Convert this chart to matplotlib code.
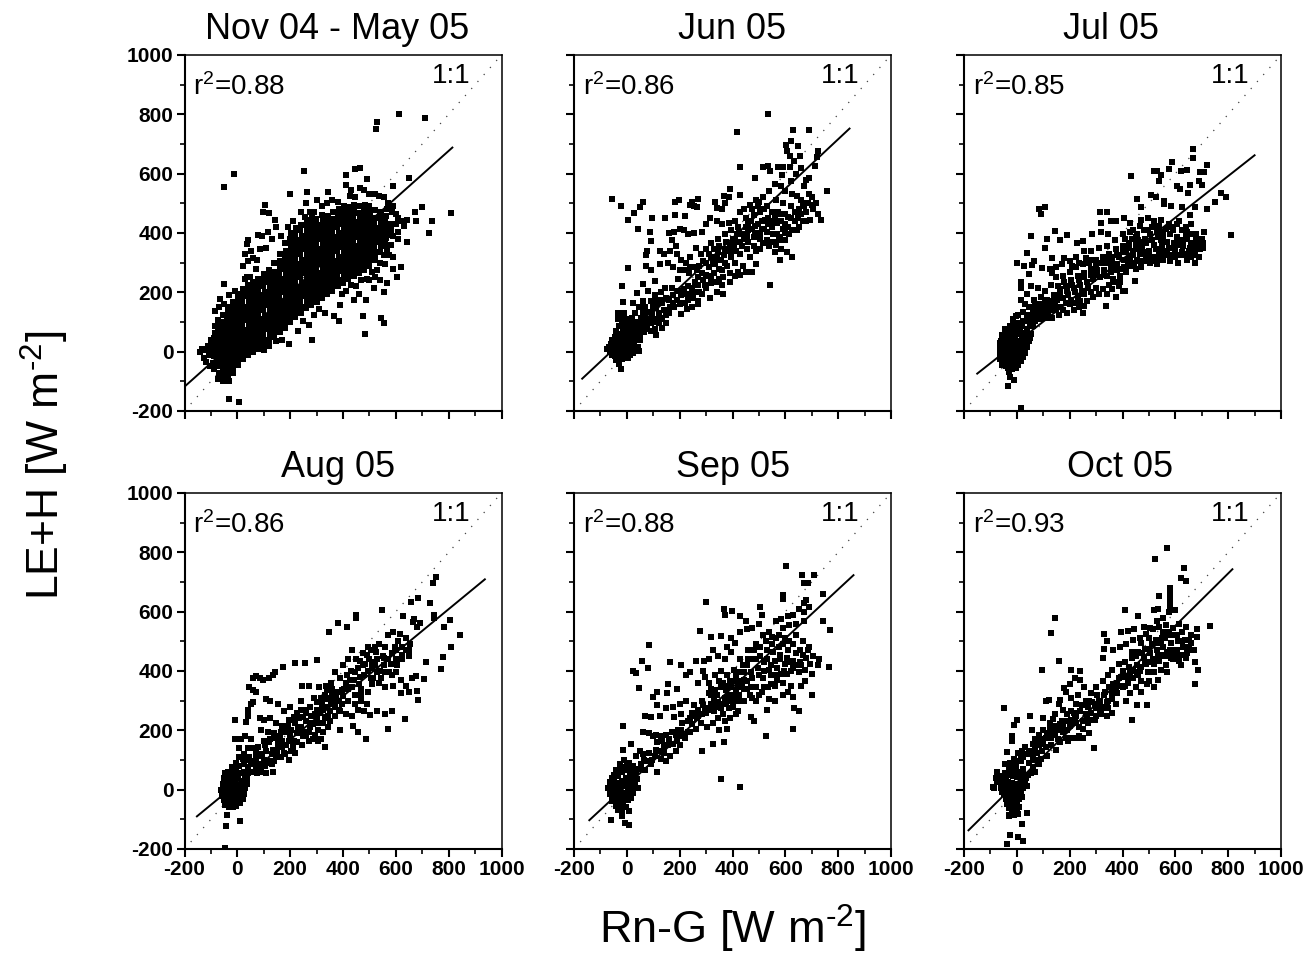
import matplotlib
matplotlib.use('Agg')
import matplotlib.pyplot as plt
import numpy as np

plt.rcParams['font.family'] = ['Liberation Sans', 'DejaVu Sans']
plt.rcParams['mathtext.default'] = 'regular'
plt.rcParams['axes.unicode_minus'] = False

titles = ['Nov 04 - May 05', 'Jun 05', 'Jul 05', 'Aug 05', 'Sep 05', 'Oct 05']
r2_labels = ['0.88', '0.86', '0.85', '0.86', '0.88', '0.93']

# fit line end points
fit_x = [(-200, 814), (-169, 843), (-150, 900), (-153, 937), (-142, 858), (-183, 816)]
fit_y = [(-118, 688), (-91, 752), (-74, 662), (-90, 709), (-103, 723), (-137, 743)]

# ======================
# Nov 04 - May 05 (dense cloud, rough reading)
# ======================
nov_core = [
    (-142, -2), (-135, 8), (-128, -20), (-122, 5), (-118, -35), (-112, 20), (-108, -12), (-105, -50), (-100, 40), (-98, 8),
    (-90, -60), (-92, -38), (-88, -16), (-90, 5), (-88, 25), (-90, 45), (-86, 62), (-84, 85),
    (-72, -92), (-70, -72), (-74, -50), (-70, -30), (-72, -10), (-70, 10), (-74, 30), (-70, 50), (-72, 70), (-70, 90), (-72, 108),
    (-55, -100), (-52, -80), (-56, -60), (-53, -40), (-55, -20), (-52, 0), (-56, 20), (-53, 40), (-55, 60), (-52, 80), (-56, 100), (-54, 122),
    (-36, -88), (-34, -68), (-38, -48), (-35, -28), (-37, -8), (-34, 12), (-38, 32), (-35, 52), (-37, 72), (-34, 92), (-38, 112), (-36, 132), (-34, 150),
    (-18, -72), (-16, -52), (-20, -32), (-17, -12), (-19, 8), (-16, 28), (-20, 48), (-17, 68), (-19, 88), (-16, 108), (-20, 128), (-18, 148), (-16, 168),
    (2, -46), (0, -26), (3, -6), (1, 14), (4, 34), (0, 54), (3, 74), (1, 94), (4, 114), (0, 134), (3, 154), (1, 174), (3, 194),
    (20, -26), (22, -8), (19, 12), (22, 32), (20, 52), (23, 72), (19, 92), (22, 112), (20, 132), (23, 152), (19, 172), (22, 192), (20, 212),
    (40, -12), (42, 8), (39, 28), (42, 48), (40, 68), (43, 88), (39, 108), (42, 128), (40, 148), (43, 168), (39, 188), (42, 208), (40, 224),
    (60, 0), (62, 20), (59, 40), (62, 60), (60, 80), (63, 100), (59, 120), (62, 140), (60, 160), (63, 180), (59, 200), (62, 220), (60, 234),
    (80, 10), (82, 30), (79, 50), (82, 70), (80, 90), (83, 110), (79, 130), (82, 150), (80, 170), (83, 190), (79, 210), (82, 230), (80, 246),
    (100, 20), (102, 40), (99, 60), (102, 80), (100, 100), (103, 120), (99, 140), (102, 160), (100, 180), (103, 200), (99, 220), (102, 240), (100, 262),
    (120, 36), (122, 56), (119, 76), (122, 96), (120, 116), (123, 136), (119, 156), (122, 176), (120, 196), (123, 216), (119, 236), (122, 256), (120, 276),
    (140, 50), (142, 70), (139, 90), (142, 110), (140, 130), (143, 150), (139, 170), (142, 190), (140, 210), (143, 230), (139, 250), (142, 270), (140, 298),
    (160, 66), (162, 86), (159, 106), (162, 126), (160, 146), (163, 166), (159, 186), (162, 206), (160, 226), (163, 246), (159, 266), (162, 286), (160, 306), (163, 328),
    (180, 80), (182, 100), (179, 120), (182, 140), (180, 160), (183, 180), (179, 200), (182, 220), (180, 240), (183, 260), (179, 280), (182, 300), (180, 320), (183, 340), (179, 366),
    (200, 100), (202, 120), (199, 140), (202, 160), (200, 180), (203, 200), (199, 220), (202, 240), (200, 260), (203, 280), (199, 300), (202, 320), (200, 340), (203, 360), (199, 380), (202, 400),
    (220, 116), (222, 136), (219, 156), (222, 176), (220, 196), (223, 216), (219, 236), (222, 256), (220, 276), (223, 296), (219, 316), (222, 336), (220, 356), (223, 376), (219, 396), (222, 416),
    (240, 130), (242, 150), (239, 170), (242, 190), (240, 210), (243, 230), (239, 250), (242, 270), (240, 290), (243, 310), (239, 330), (242, 350), (240, 370), (243, 390), (239, 410), (242, 428),
    (260, 146), (262, 166), (259, 186), (262, 206), (260, 226), (263, 246), (259, 266), (262, 286), (260, 306), (263, 326), (259, 346), (262, 366), (260, 386), (263, 406), (259, 426), (262, 444),
    (280, 156), (282, 176), (279, 196), (282, 216), (280, 236), (283, 256), (279, 276), (282, 296), (280, 316), (283, 336), (279, 356), (282, 376), (280, 396), (283, 416), (279, 436), (282, 450),
    (300, 166), (302, 186), (299, 206), (302, 226), (300, 246), (303, 266), (299, 286), (302, 306), (300, 326), (303, 346), (299, 366), (302, 386), (300, 406), (303, 426), (299, 446),
    (320, 180), (322, 200), (319, 220), (322, 240), (320, 260), (323, 280), (319, 300), (322, 320), (320, 340), (323, 360), (319, 380), (322, 400), (320, 420), (323, 440), (319, 462),
    (340, 196), (342, 216), (339, 236), (342, 256), (340, 276), (343, 296), (339, 316), (342, 336), (340, 356), (343, 376), (339, 396), (342, 416), (340, 436), (343, 456),
    (360, 206), (362, 226), (359, 246), (362, 266), (360, 286), (363, 306), (359, 326), (362, 346), (360, 366), (363, 386), (359, 406), (362, 426), (360, 446), (363, 472),
    (380, 220), (382, 240), (379, 260), (382, 280), (380, 300), (383, 320), (379, 340), (382, 360), (380, 380), (383, 400), (379, 420), (382, 440), (380, 460), (383, 480),
    (400, 232), (402, 252), (399, 272), (402, 292), (400, 312), (403, 332), (399, 352), (402, 372), (400, 392), (403, 412), (399, 432), (402, 452), (400, 472), (403, 490),
    (420, 246), (422, 266), (419, 286), (422, 306), (420, 326), (423, 346), (419, 366), (422, 386), (420, 406), (423, 426), (419, 446), (422, 466), (420, 488),
    (440, 256), (442, 276), (439, 296), (442, 316), (440, 336), (443, 356), (439, 376), (442, 396), (440, 416), (443, 436), (439, 456), (442, 476), (440, 495),
    (460, 266), (462, 286), (459, 306), (462, 326), (460, 346), (463, 366), (459, 386), (462, 406), (460, 426), (463, 446), (459, 466), (462, 492),
    (480, 276), (482, 296), (479, 316), (482, 336), (480, 356), (483, 376), (479, 396), (482, 416), (480, 436), (483, 456), (479, 476), (482, 495),
    (500, 290), (502, 310), (499, 330), (502, 350), (500, 370), (503, 390), (499, 410), (502, 430), (500, 450), (503, 470), (499, 490),
    (520, 310), (522, 330), (519, 350), (522, 370), (520, 390), (523, 410), (519, 430), (522, 450), (520, 478),
    (540, 336), (542, 356), (539, 376), (542, 396), (540, 416), (543, 436), (539, 456), (542, 470),
    (560, 362), (562, 382), (559, 402), (562, 422), (560, 442), (563, 456),
    (580, 392), (582, 412), (579, 430),
]
nov_scatter = [
    (611, 802), (710, 786), (527, 773), (524, 752), (254, 608), (-11, 600), (-49, 555), (413, 597), (447, 615), (466, 619),
    (491, 581), (649, 584), (590, 557), (200, 532), (263, 538), (344, 539), (411, 562), (105, 495), (261, 500), (99, 470),
    (119, 469), (144, 444), (810, 467), (738, 439), (725, 399), (678, 442), (644, 443), (699, 486), (673, 472), (641, 371),
    (609, 405), (618, 287), (590, 318), (567, 231), (554, 202), (519, 214), (485, 61), (557, 98), (544, 112), (475, 121),
    (384, 105), (365, 120), (284, 38), (197, 26), (228, 71), (390, 157), (486, 174), (-84, 138), (-49, 227), (-66, 178),
    (-32, -100), (-33, -160), (8, -169), (23, 290), (42, 377), (42, 304), (80, 394), (35, 362), (30, 330), (60, 316),
    (75, 310), (50, 340), (95, 390), (115, 405), (130, 380), (145, 420), (165, 390), (110, 350), (85, 345), (70, 280),
    (48, 250), (38, 252), (28, 246), (-30, 190), (-10, 205), (-50, 160), (-70, 150), (430, 545), (425, 525), (445, 520),
    (465, 550), (480, 545), (500, 530), (520, 530), (535, 525), (555, 520), (570, 500), (590, 490), (600, 465), (610, 450),
    (620, 440), (630, 425), (585, 470), (565, 480), (600, 430), (590, 390), (610, 380), (580, 360), (565, 345), (555, 325),
    (540, 300), (530, 275), (510, 270), (490, 245), (470, 240), (450, 220), (520, 250), (560, 295), (575, 325), (500, 240),
    (430, 225), (410, 205), (395, 195), (460, 195), (440, 175), (605, 250), (590, 280), (540, 240), (330, 130), (310, 145),
    (290, 125), (250, 105), (270, 90), (170, 40), (145, 35), (120, 20), (100, 5), (300, 510), (320, 490), (340, 500),
    (360, 510), (380, 505), (290, 470), (275, 470), (255, 455), (240, 470), (210, 440), (190, 420),
]
nov_pts = nov_core + nov_scatter

# ======================
# Jun 05
# ======================
jun_pts = [
    (534, 800), (418, 739), (630, 748), (688, 748), (622, 711), (603, 696), (649, 692), (606, 677), (722, 677), (618, 660),
    (656, 660), (631, 643), (719, 655), (713, 627), (618, 621), (429, 621), (517, 621), (536, 627), (543, 610), (574, 621),
    (593, 621), (688, 587), (587, 595), (486, 587), (757, 540), (-57, 516), (-21, 492), (63, 506), (50, 486), (28, 467),
    (4, 443), (97, 452), (42, 413), (88, 404), (91, 373), (78, 340), (73, 326), (126, 340), (139, 328), (4, 282),
    (73, 289), (91, 276), (126, 295), (-19, 222), (63, 227), (107, 238), (38, 199), (-13, 168), (-34, 129), (543, 225),
    (271, 162), (227, 145), (204, 126), (-21, -57), (145, 450), (183, 460), (221, 458), (183, 503), (196, 511), (246, 503),
    (271, 516), (265, 486), (334, 505), (391, 548), (429, 529), (366, 525), (240, 495), (255, 490), (340, 485), (360, 480),
    (370, 500), (385, 520), (160, 400), (180, 405), (200, 415), (215, 410), (230, 395), (255, 400), (285, 405), (300, 430),
    (315, 450), (340, 440), (360, 430), (385, 435), (410, 440), (430, 470), (445, 480), (465, 495), (490, 510), (515, 520),
    (540, 540), (560, 565), (585, 560), (600, 540), (625, 530), (645, 525), (670, 560), (660, 510), (690, 530), (700, 495),
    (680, 470), (650, 480), (620, 490), (590, 500), (565, 510), (530, 490), (505, 470), (480, 460), (450, 450), (420, 420),
    (395, 410), (370, 395), (345, 380), (320, 365), (300, 345), (280, 330), (260, 350), (240, 320), (225, 300), (205, 310),
    (185, 355), (170, 375), (165, 340), (190, 330), (155, 300), (175, 285), (200, 275), (235, 265), (255, 285), (275, 290),
    (300, 300), (320, 320), (345, 335), (370, 345), (390, 360), (410, 375), (435, 395), (460, 410), (485, 425), (510, 440),
    (535, 450), (560, 460), (585, 465), (610, 455), (635, 440), (665, 440), (695, 445), (725, 465), (735, 445), (650, 420),
    (625, 410), (600, 400), (580, 385), (555, 395), (530, 405), (505, 400), (480, 385), (460, 370), (435, 355), (415, 340),
    (395, 320), (370, 300), (350, 280), (330, 265), (310, 255), (290, 240), (270, 225), (340, 235), (365, 250), (390, 265),
    (420, 270), (440, 290), (465, 320), (490, 340), (515, 365), (540, 355), (565, 360), (585, 345), (605, 335), (625, 320),
    (580, 310), (560, 335), (410, 255), (390, 235), (360, 225), (365, 195), (350, 245), (260, 200), (250, 180), (230, 175),
    (215, 195), (195, 205), (175, 190), (160, 175), (145, 215), (130, 200), (125, 175), (105, 190), (90, 170), (80, 205),
    (70, 150), (60, 170), (45, 150), (30, 130), (25, 165), (140, 140), (120, 130), (150, 95), (135, 80), (125, 115),
    (100, 100), (85, 110), (70, 120), (55, 100), (45, 80), (65, 65), (40, 60), (90, 70), (110, 55), (105, 75),
    (20, 115), (15, 85), (5, 65), (-5, 95), (-15, 75), (-30, 85), (-40, 70), (-45, 50), (-55, 40), (-60, 25),
    (-48, 20), (-38, 35), (-30, 55), (-22, 40), (-12, 55), (0, 45), (12, 55), (25, 50), (35, 40), (50, 40),
    (-75, 8), (-62, 5), (-50, 2), (-38, 10), (-28, 18), (-18, 12), (-8, 20), (4, 22), (15, 30), (28, 20),
    (42, 15), (-58, -12), (-45, -15), (-32, -5), (-22, -10), (-10, 0), (2, 5), (14, 8), (-30, -30), (-18, -25),
    (5, -20), (25, -5), (-28, -42), (-40, -28), (620, 575), (640, 600), (660, 620), (680, 580), (705, 480), (665, 500),
    (570, 435), (550, 470), (520, 415), (495, 490), (470, 440), (455, 390), (505, 380), (350, 310), (380, 290), (335, 295),
    (320, 230), (300, 215), (285, 195), (315, 180), (340, 200), (270, 170), (245, 150), (210, 165), (180, 150), (160, 130),
    (110, 150), (95, 130), (75, 90), (60, 135), (38, 100), (10, 110), (-10, 130), (680, 440), (640, 470), (600, 465),
]
jun_extra = [
    (-68, 15), (-55, 25), (-42, 15), (-30, 30), (-18, 28), (-5, 35), (8, 38), (20, 40), (32, 55), (48, 55),
    (-65, -2), (-52, -5), (-40, -8), (-15, -8), (0, -10), (12, -12), (30, 5), (45, 2), (-35, 48), (-20, 60),
    (-8, 65), (8, 70), (22, 72), (35, 75), (50, 70), (62, 85), (78, 75), (92, 95), (108, 110), (122, 95),
    (135, 110), (148, 125), (162, 150), (175, 165), (190, 175), (205, 190), (218, 210), (232, 220), (245, 215), (258, 235),
    (270, 250), (285, 265), (300, 260), (312, 285), (325, 300), (340, 320), (355, 310), (368, 325), (380, 345), (392, 340),
    (405, 355), (418, 395), (430, 370), (445, 380), (458, 430), (472, 415), (485, 400), (498, 430), (510, 415), (522, 445),
    (535, 430), (548, 420), (560, 440), (572, 470), (585, 440), (598, 430), (610, 420), (622, 450), (635, 470), (648, 450),
    (660, 465), (672, 490), (685, 500), (700, 520), (715, 500), (645, 410), (615, 395), (590, 415), (570, 395), (545, 440),
    (520, 480), (500, 505), (475, 480), (450, 420), (425, 405), (400, 380), (375, 370), (350, 355), (330, 345), (310, 330),
    (290, 305), (265, 275), (240, 285), (215, 275), (195, 245), (172, 215), (150, 180), (135, 165), (115, 170), (98, 150),
    (82, 135), (68, 100), (52, 115), (30, 90), (15, 95), (0, 85), (-20, 95), (-35, 110), (-15, 115), (5, 100),
    (200, 160), (220, 165), (240, 195), (275, 200), (295, 225), (320, 250), (360, 275), (410, 300), (430, 330), (455, 345),
    (480, 355), (505, 345), (530, 375), (555, 370), (575, 375), (600, 375), (475, 270), (450, 270), (430, 260), (490, 295),
]

# ======================
# Jul 05
# ======================
jul_pts = [
    (668, 683), (668, 653), (588, 640), (720, 629), (521, 610), (531, 610), (575, 615), (620, 610), (645, 612), (434, 593),
    (546, 595), (537, 576), (695, 604), (708, 604), (689, 576), (701, 562), (657, 562), (607, 559), (617, 548), (647, 534),
    (771, 534), (790, 523), (751, 503), (720, 480), (676, 488), (455, 514), (506, 528), (525, 520), (556, 508), (556, 497),
    (582, 492), (626, 486), (471, 488), (657, 460), (83, 480), (105, 486), (92, 463), (52, 390), (146, 406), (115, 379),
    (165, 376), (190, 394), (105, 351), (37, 334), (1, 300), (64, 306), (58, 291), (29, 289), (45, 263), (134, 317),
    (178, 317), (96, 281), (127, 278), (14, 236), (16, 213), (809, 394), (708, 402), (704, 349), (676, 300), (226, 366),
    (251, 373), (285, 396), (319, 435), (313, 470), (340, 471), (355, 441), (336, 154), (449, 238), (411, 205), (-34, -116),
    (-9, -97), (14, -189), (320, 405), (345, 395), (375, 440), (405, 450), (430, 435), (470, 445), (495, 450), (520, 440),
    (545, 445), (575, 430), (590, 410), (615, 440), (640, 420), (660, 395), (680, 395), (700, 380), (685, 360), (660, 365),
    (630, 375), (605, 385), (580, 395), (555, 390), (530, 405), (505, 395), (480, 410), (455, 395), (430, 405), (400, 395),
    (370, 375), (340, 355), (310, 350), (280, 340), (255, 340), (225, 320), (200, 305), (170, 295), (150, 285), (135, 265),
    (150, 250), (175, 255), (200, 270), (225, 285), (250, 295), (275, 300), (300, 310), (325, 320), (350, 330), (375, 345),
    (400, 355), (425, 365), (450, 360), (475, 350), (500, 340), (525, 345), (550, 355), (575, 350), (600, 345), (625, 335),
    (650, 340), (675, 340), (695, 345), (705, 365), (645, 310), (610, 300), (580, 305), (555, 310), (530, 295), (505, 300),
    (480, 305), (455, 310), (430, 320), (405, 310), (380, 295), (355, 290), (330, 275), (305, 275), (280, 280), (255, 265),
    (230, 255), (205, 240), (180, 235), (155, 220), (130, 225), (105, 205), (80, 215), (55, 220), (40, 195), (65, 175),
    (90, 185), (115, 175), (140, 190), (165, 195), (190, 205), (215, 215), (240, 225), (265, 235), (290, 245), (315, 250),
    (340, 255), (365, 245), (390, 255), (415, 270), (385, 220), (360, 210), (340, 195), (400, 205), (375, 185), (300, 215),
    (280, 200), (255, 195), (230, 185), (205, 175), (185, 165), (165, 150), (145, 160), (120, 150), (100, 145), (80, 140),
    (60, 140), (45, 150), (30, 160), (15, 175), (-5, 120), (5, 125), (25, 135), (25, 105), (50, 110), (70, 105),
    (90, 110), (110, 115), (135, 115), (160, 125), (190, 130), (215, 140), (235, 150), (250, 130), (255, 155), (20, 85),
    (40, 75), (60, 85), (5, 95), (-15, 110), (-25, 85), (-45, 75), (-55, 55), (-40, 50), (-25, 60), (-10, 70),
    (5, 60), (20, 55), (35, 50), (-60, 35), (-48, 30), (-35, 25), (-20, 35), (-8, 40), (8, 35), (22, 30),
    (-62, 12), (-50, 10), (-38, 5), (-25, 12), (-12, 15), (2, 18), (15, 10), (-58, -8), (-45, -12), (-32, -15),
    (-20, -5), (-8, -5), (5, -2), (-50, -30), (-38, -32), (-25, -28), (-12, -25), (-2, -18), (-40, -50), (-28, -48),
    (-15, -42), (-30, -68), (-20, -60), (-25, -85), (660, 430), (640, 390), (620, 360), (600, 320), (560, 325), (540, 335),
    (515, 320), (490, 325), (465, 330), (440, 340), (415, 335), (520, 360), (545, 375), (570, 370), (595, 365), (510, 420),
    (485, 380), (460, 375), (435, 380), (410, 380), (385, 320), (360, 310), (335, 300), (310, 300), (285, 310), (260, 315),
    (235, 300), (210, 290), (430, 290), (450, 280), (395, 280), (470, 285), (660, 320), (690, 320), (670, 325),
]
jul_extra = [
    (-50, 45), (-35, 65), (-22, 75), (-8, 55), (12, 72), (28, 62), (42, 60), (-42, 38), (-28, 45), (-12, 28),
    (10, 22), (28, 15), (-52, -18), (-38, -18), (-22, -18), (-8, -30), (8, -12), (-34, -55), (-18, -28), (70, 125),
    (85, 120), (100, 130), (118, 135), (130, 140), (150, 140), (175, 140), (200, 160), (222, 165), (240, 170), (265, 170),
    (290, 185), (310, 195), (325, 210), (348, 225), (372, 235), (392, 235), (270, 215), (245, 205), (220, 200), (195, 190),
    (175, 180), (152, 175), (128, 170), (105, 165), (88, 160), (70, 155), (55, 125), (40, 125), (35, 105), (50, 90),
    (165, 210), (185, 220), (210, 225), (235, 240), (255, 250), (280, 260), (305, 260), (330, 260), (355, 270), (380, 275),
    (405, 285), (420, 300), (445, 300), (465, 305), (490, 310), (515, 305), (540, 310), (560, 340), (580, 325), (600, 330),
    (620, 325), (640, 330), (655, 350), (670, 360), (690, 360), (440, 325), (460, 345), (480, 335), (505, 320), (530, 320),
    (550, 330), (570, 335), (590, 350), (610, 365), (630, 355), (645, 380), (555, 405), (535, 385), (510, 375), (490, 365),
    (470, 370), (450, 385), (425, 350), (400, 335), (380, 325), (355, 320), (325, 300), (300, 290), (345, 310), (495, 410),
    (520, 420), (540, 425), (565, 415), (585, 420), (605, 430), (625, 410), (645, 405), (680, 375), (465, 425), (440, 410),
    (-65, -5), (-65, 15), (-62, -25), (-62, 30), (-55, -45), (30, -5), (38, 15), (45, 35), (25, -18), (15, -30),
    (5, -45), (-5, -55), (30, 40), (50, 45), (55, 60), (-45, 60), (-30, 78), (-15, 90), (0, 80), (15, 90),
]

# ======================
# Aug 05
# ======================
aug_pts = [
    (753, 718), (739, 696), (684, 645), (658, 634), (728, 628), (743, 589), (743, 578), (549, 604), (449, 589), (449, 578),
    (382, 561), (414, 547), (348, 533), (629, 584), (667, 575), (692, 561), (806, 572), (784, 547), (842, 520), (810, 480),
    (778, 446), (772, 407), (715, 429), (706, 373), (677, 382), (680, 331), (684, 303), (633, 239), (572, 204), (486, 171),
    (503, 253), (439, 213), (458, 196), (389, 202), (173, 415), (218, 426), (256, 426), (300, 438), (142, 398), (72, 382),
    (97, 370), (59, 337), (41, 269), (-10, 236), (34, 227), (85, 241), (-10, 171), (-39, -86), (-42, -123), (9, -107),
    (-46, -196), (120, 375), (135, 385), (85, 378), (60, 375), (45, 345), (70, 330), (50, 290), (60, 295), (40, 250),
    (110, 305), (125, 300), (155, 290), (175, 265), (200, 280), (240, 270), (260, 260), (270, 350), (245, 350), (240, 300),
    (290, 310), (310, 345), (335, 350), (360, 340), (340, 305), (320, 290), (300, 270), (280, 250), (260, 230), (240, 210),
    (220, 225), (195, 235), (170, 215), (145, 225), (125, 240), (100, 235), (90, 200), (115, 195), (140, 190), (160, 180),
    (180, 195), (205, 200), (225, 190), (250, 180), (270, 195), (295, 185), (315, 170), (330, 145), (270, 165), (245, 150),
    (220, 125), (195, 165), (170, 145), (150, 130), (130, 120), (120, 160), (100, 165), (80, 145), (70, 125), (50, 170),
    (30, 180), (15, 170), (5, 140), (25, 120), (45, 110), (65, 95), (85, 85), (105, 80), (135, 60), (140, 95),
    (165, 110), (195, 100), (75, 55), (55, 60), (40, 75), (25, 85), (15, 55), (30, 45), (5, 80), (-5, 65),
    (-15, 55), (-30, 60), (-38, 45), (-25, 35), (-12, 35), (2, 40), (16, 25), (-42, 25), (-32, 18), (-20, 15),
    (-8, 18), (6, 15), (20, 8), (-50, 5), (-38, 2), (-25, -2), (-12, 2), (2, -2), (14, -8), (-45, -15),
    (-32, -20), (-20, -18), (-8, -15), (4, -25), (-38, -40), (-25, -45), (-12, -38), (-32, -58), (-18, -58), (330, 320),
    (355, 310), (380, 330), (400, 315), (420, 340), (440, 370), (460, 355), (430, 400), (415, 385), (390, 375), (370, 395),
    (455, 410), (475, 420), (490, 455), (505, 470), (520, 480), (535, 490), (550, 450), (530, 440), (510, 430), (495, 400),
    (480, 385), (505, 375), (530, 395), (555, 420), (575, 395), (600, 395), (620, 370), (590, 350), (560, 345), (535, 360),
    (510, 355), (470, 340), (445, 320), (420, 300), (395, 290), (370, 280), (350, 265), (330, 245), (310, 225), (285, 220),
    (470, 300), (490, 290), (480, 265), (455, 270), (435, 250), (350, 230), (365, 290), (385, 270), (410, 255), (530, 265),
    (560, 255), (585, 265), (620, 325), (650, 330), (640, 350), (660, 375), (600, 440), (625, 480), (640, 470), (610, 500),
    (590, 530), (615, 525), (640, 510), (655, 490), (680, 550), (665, 565), (650, 450), (625, 440), (585, 460), (560, 480),
    (595, 480), (570, 520), (435, 470), (420, 440), (400, 420), (450, 440), (475, 460), (510, 410), (545, 375), (570, 440),
    (300, 240), (275, 210), (250, 245), (225, 260), (205, 130), (155, 160), (110, 130), (95, 115), (60, 140), (40, 140),
    (180, 120), (125, 90), (90, 60), (110, 55), (70, 75), (305, 200), (325, 195), (345, 210), (330, 280), (355, 360),
]
aug_extra = [
    (25, 60), (40, 55), (55, 85), (70, 60), (85, 70), (100, 100), (115, 95), (130, 85), (145, 110), (155, 145),
    (170, 165), (185, 150), (200, 180), (215, 165), (230, 205), (245, 190), (260, 180), (280, 225), (295, 255), (310, 260),
    (325, 270), (340, 240), (355, 290), (375, 310), (395, 335), (410, 360), (425, 370), (445, 395), (465, 380), (485, 425),
    (500, 440), (520, 420), (540, 400), (560, 395), (585, 385), (605, 420), (625, 455), (600, 470), (650, 470), (580, 425),
    (555, 445), (525, 465), (495, 480), (465, 435), (435, 345), (405, 340), (385, 300), (360, 320), (340, 335), (315, 310),
    (300, 295), (275, 280), (255, 270), (235, 240), (215, 245), (190, 215), (165, 195), (145, 175), (125, 170), (105, 150),
    (85, 120), (70, 105), (50, 90), (35, 100), (20, 105), (5, 110), (-5, 90), (-20, 75), (-35, 30), (-22, 50),
    (-8, 48), (8, 55), (24, 30), (36, 35), (-45, 10), (-30, 5), (-15, 10), (0, 15), (12, 10), (-28, -30),
    (-15, -28), (-2, -30), (-22, -50), (-38, -22), (135, 135), (150, 110), (175, 125), (210, 145), (225, 160), (255, 195),
    (285, 170), (305, 165), (325, 225), (345, 250), (370, 250), (390, 265), (445, 290), (470, 320), (495, 330), (515, 375),
    (-60, 0), (-58, -20), (-55, 20), (-52, 40), (-50, -35), (-45, -50), (25, -15), (30, 5), (35, 20), (20, -30),
    (10, -45), (-5, -55), (-48, 55), (-35, 60), (-15, 70), (35, 45),
]

# ======================
# Sep 05
# ======================
sep_pts = [
    (602, 754), (662, 722), (710, 722), (669, 696), (684, 696), (593, 657), (593, 642), (742, 660), (300, 632), (366, 608),
    (399, 603), (372, 589), (505, 617), (511, 589), (429, 584), (278, 536), (319, 516), (357, 518), (85, 489), (59, 435),
    (23, 401), (35, 393), (82, 410), (164, 429), (204, 419), (262, 435), (293, 435), (47, 342), (155, 356), (189, 340),
    (98, 314), (114, 329), (114, 286), (151, 325), (-13, 215), (770, 539), (742, 569), (729, 441), (765, 415), (700, 320),
    (675, 365), (628, 314), (631, 275), (652, 266), (628, 204), (527, 180), (429, 10), (355, 36), (368, 160), (328, 154),
    (286, 129), (-59, -103), (-6, -112), (9, -120), (670, 630), (680, 640), (670, 600), (690, 615), (650, 610), (630, 590),
    (610, 585), (585, 575), (670, 570), (640, 560), (615, 555), (590, 545), (565, 570), (450, 570), (475, 545), (500, 560),
    (455, 540), (430, 530), (395, 510), (410, 495), (380, 480), (395, 465), (370, 440), (345, 450), (325, 470), (310, 440),
    (290, 400), (240, 395), (225, 385), (270, 360), (295, 380), (310, 360), (335, 385), (355, 400), (380, 385), (405, 405),
    (430, 440), (460, 470), (490, 490), (515, 520), (540, 530), (565, 510), (590, 490), (615, 500), (640, 520), (665, 500),
    (690, 480), (705, 450), (680, 445), (655, 430), (630, 435), (605, 445), (580, 455), (555, 465), (530, 470), (505, 450),
    (480, 440), (455, 420), (430, 395), (405, 365), (380, 350), (355, 345), (335, 335), (310, 325), (285, 300), (255, 285),
    (225, 300), (200, 290), (175, 280), (150, 275), (125, 250), (90, 245), (70, 250), (60, 195), (85, 190), (100, 180),
    (115, 160), (135, 165), (160, 170), (185, 185), (205, 200), (230, 230), (250, 250), (270, 270), (295, 275), (320, 290),
    (345, 295), (370, 310), (395, 320), (420, 345), (445, 370), (470, 395), (495, 410), (520, 430), (545, 420), (570, 410),
    (595, 400), (620, 400), (650, 395), (675, 405), (700, 390), (725, 420), (660, 350), (590, 360), (560, 350), (535, 345),
    (515, 375), (490, 345), (470, 345), (445, 340), (425, 320), (405, 300), (385, 275), (365, 255), (345, 240), (325, 225),
    (305, 210), (280, 225), (260, 205), (240, 195), (220, 175), (200, 150), (185, 130), (165, 115), (150, 95), (130, 105),
    (105, 115), (85, 125), (65, 100), (50, 130), (35, 115), (15, 155), (-15, 135), (10, 90), (25, 80), (45, 70),
    (70, 65), (90, 85), (115, 60), (140, 125), (-10, 100), (-25, 85), (-40, 65), (-50, 50), (-35, 45), (-20, 60),
    (0, 65), (12, 50), (28, 40), (-62, 25), (-48, 28), (-32, 22), (-18, 30), (-2, 38), (14, 28), (30, 15),
    (-70, 5), (-55, 5), (-40, 0), (-25, 5), (-10, 12), (4, 8), (18, 2), (-65, -15), (-50, -18), (-35, -15),
    (-20, -10), (-5, -12), (8, -15), (25, -10), (-55, -38), (-40, -38), (-25, -32), (-10, -32), (5, -35), (-42, -55),
    (-28, -52), (-14, -50), (-35, -70), (-20, -68), (-5, -60), (-20, -88), (10, -72), (330, 265), (350, 200), (370, 230),
    (390, 240), (420, 265), (380, 205), (330, 300), (400, 280), (415, 255), (445, 300), (465, 320), (490, 300), (510, 330),
    (540, 305), (560, 300), (530, 270), (470, 245), (480, 230), (620, 350), (610, 330), (545, 385), (570, 370), (590, 320),
]
sep_extra = [
    (-55, 40), (-42, 52), (-28, 65), (-12, 75), (2, 85), (18, 70), (35, 60), (40, 35), (-60, 10), (-45, 15),
    (-30, 10), (-12, 25), (5, 25), (22, 22), (42, 5), (-58, -25), (-45, -28), (-30, -25), (-15, -20), (0, -22),
    (15, -28), (55, 85), (75, 95), (60, 120), (95, 100), (110, 135), (125, 130), (140, 145), (155, 150), (175, 155),
    (190, 165), (210, 180), (230, 195), (245, 220), (265, 240), (285, 255), (300, 260), (315, 270), (335, 280), (355, 275),
    (375, 290), (395, 300), (415, 335), (435, 355), (455, 365), (475, 375), (500, 385), (520, 400), (540, 405), (560, 435),
    (580, 440), (600, 425), (620, 430), (640, 460), (665, 455), (685, 470), (695, 425), (645, 420), (610, 470), (575, 480),
    (550, 490), (525, 500), (505, 480), (480, 470), (460, 440), (440, 420), (415, 385), (390, 365), (365, 360), (340, 320),
    (320, 320), (290, 285), (270, 250), (240, 240), (210, 225), (195, 200), (170, 195), (150, 185), (130, 180), (110, 185),
    (365, 290), (385, 315), (410, 315), (430, 300), (455, 340), (475, 310), (500, 320), (520, 345), (545, 355), (565, 385),
    (585, 390), (605, 390), (630, 410), (660, 420), (655, 470), (630, 490), (600, 510), (575, 520), (550, 515), (530, 440),
    (180, 245), (205, 255), (245, 260), (320, 340), (350, 365), (375, 335), (395, 345), (420, 365), (445, 395), (490, 440),
]

# ======================
# Oct 05
# ======================
oct_pts = [
    (567, 816), (524, 778), (632, 746), (620, 715), (640, 704), (578, 679), (578, 660), (538, 654), (408, 604), (519, 604),
    (534, 609), (143, 578), (130, 529), (459, 584), (159, 434), (95, 404), (206, 404), (241, 401), (731, 552), (683, 542),
    (683, 516), (673, 432), (685, 402), (673, 357), (567, 395), (534, 370), (493, 357), (493, 286), (456, 284), (437, 236),
    (294, 139), (-49, 274), (1, 236), (-11, 217), (49, 249), (58, 202), (100, 241), (136, 238), (-18, 180), (-18, 165),
    (-37, 127), (-43, 88), (37, -79), (20, -116), (-24, -154), (5, -159), (24, -172), (-37, -182), (121, 303), (112, 298),
    (178, 342), (165, 303), (578, 640), (580, 620), (600, 605), (575, 600), (555, 580), (530, 570), (505, 545), (480, 550),
    (445, 540), (420, 535), (395, 530), (330, 525), (340, 500), (330, 475), (325, 445), (365, 470), (390, 480), (415, 490),
    (440, 505), (465, 510), (490, 525), (515, 540), (540, 550), (565, 555), (590, 545), (615, 560), (640, 550), (660, 520),
    (635, 505), (610, 500), (585, 495), (560, 510), (535, 495), (510, 490), (485, 475), (460, 465), (435, 445), (410, 430),
    (385, 425), (360, 405), (345, 385), (325, 365), (300, 345), (280, 325), (255, 345), (240, 370), (220, 375), (200, 355),
    (185, 330), (205, 310), (230, 320), (260, 300), (285, 295), (305, 320), (335, 330), (360, 340), (380, 360), (405, 380),
    (430, 395), (455, 420), (480, 445), (505, 460), (530, 470), (555, 480), (580, 470), (605, 470), (630, 480), (650, 480),
    (670, 470), (640, 445), (615, 435), (590, 440), (565, 420), (540, 435), (515, 440), (490, 425), (465, 400), (440, 375),
    (420, 360), (400, 345), (380, 325), (360, 305), (340, 295), (320, 280), (300, 275), (280, 260), (260, 255), (240, 265),
    (215, 260), (190, 255), (170, 230), (145, 255), (125, 225), (100, 200), (85, 185), (70, 170), (130, 195), (150, 205),
    (175, 195), (200, 215), (225, 225), (250, 205), (275, 190), (235, 180), (210, 175), (185, 175), (165, 160), (150, 135),
    (130, 150), (115, 115), (95, 130), (75, 125), (60, 105), (85, 85), (60, 75), (40, 120), (45, 90), (30, 145),
    (5, 125), (15, 95), (25, 70), (-10, 105), (-25, 90), (-20, 70), (-5, 75), (10, 60), (28, 42), (42, 50),
    (-45, 55), (-30, 50), (-15, 45), (0, 42), (15, 35), (30, 22), (-65, 30), (-50, 28), (-35, 25), (-20, 22),
    (-5, 20), (10, 15), (25, 5), (-90, 10), (-75, 25), (-60, 5), (-45, 5), (-30, 0), (-15, 0), (0, -2),
    (15, -10), (-50, -15), (-35, -20), (-20, -20), (-5, -22), (10, -30), (-30, -40), (-15, -42), (0, -45), (-30, -62),
    (-15, -65), (0, -65), (-28, -85), (-12, -85), (-30, -90), (5, -82), (-75, 60), (-80, 40), (-88, 5), (-60, 45),
    (395, 380), (415, 300), (430, 325), (450, 345), (470, 330), (495, 395), (520, 395), (545, 405), (520, 345), (500, 365),
    (575, 450), (595, 470), (620, 420), (605, 520), (625, 530), (660, 495), (645, 460), (555, 530), (575, 530), (460, 385),
    (310, 300), (345, 275), (360, 260), (375, 290), (340, 250), (320, 255), (295, 235), (270, 225), (250, 175), (230, 175),
    (195, 165), (155, 170), (110, 175), (100, 155), (90, 105), (70, 100), (160, 290), (175, 270), (225, 290), (270, 280),
]
oct_extra = [
    (-58, 15), (-42, 40), (-28, 65), (-12, 60), (5, 60), (20, 52), (35, 38), (-55, -8), (-40, -8), (-25, 10),
    (-10, 8), (5, 8), (20, 20), (38, 12), (-42, -30), (-28, -28), (-12, -30), (5, -18), (18, -25), (-38, -48),
    (-22, -48), (-8, -55), (8, -58), (-20, -72), (55, 55), (70, 60), (55, 125), (70, 140), (85, 150), (100, 170),
    (115, 190), (130, 175), (145, 185), (160, 200), (175, 215), (190, 200), (205, 235), (220, 245), (235, 210), (250, 230),
    (265, 240), (285, 235), (300, 250), (315, 265), (330, 275), (345, 300), (360, 320), (375, 345), (390, 350), (410, 350),
    (425, 375), (440, 400), (455, 395), (470, 415), (485, 425), (500, 430), (520, 425), (535, 450), (550, 455), (570, 465),
    (590, 460), (610, 445), (625, 455), (645, 475), (660, 470), (625, 500), (600, 520), (580, 520), (550, 510), (525, 505),
    (500, 475), (475, 460), (450, 450), (425, 415), (400, 400), (385, 375), (365, 355), (350, 345), (330, 320), (315, 300),
    (295, 290), (275, 300), (245, 285), (225, 250), (205, 265), (185, 230), (165, 220), (145, 215), (125, 205), (110, 145),
    (90, 165), (75, 150), (60, 155), (45, 130), (20, 130), (15, 115), (25, 110), (-5, 95), (-30, 75), (-55, 40),
    (435, 465), (470, 495), (500, 510), (545, 495), (560, 450), (585, 445), (605, 450), (630, 455), (650, 505), (470, 365),
]

panel_pts = [nov_pts, jun_pts + jun_extra, jul_pts + jul_extra, aug_pts + aug_extra, sep_pts + sep_extra, oct_pts + oct_extra]

# 画布和面板位置（像素）
W, H = 1306, 957
lefts = [184.5, 574, 964]
rights = [501.5, 891, 1281]
tops = [55, 493]
bottoms = [411, 849]
title_x = [337, 732, 1111, 338, 733, 1120]

fig = plt.figure(figsize=(W / 100, H / 100), dpi=100)

for i in range(6):
    col = i % 3
    row = i // 3
    ax = fig.add_axes([lefts[col] / W, 1 - bottoms[row] / H,
                       (rights[col] - lefts[col]) / W, (bottoms[row] - tops[row]) / H])
    ax.plot([-200, 1000], [-200, 1000], color='#444444', lw=0.9, ls=(0, (1, 6.5)), zorder=1)
    ax.plot(fit_x[i], fit_y[i], color='black', lw=1.4, zorder=2)
    pts = np.array(panel_pts[i])
    ax.scatter(pts[:, 0], pts[:, 1], s=17, marker='s', color='black', linewidths=0, zorder=3)

    ax.set_xlim(-200, 1000)
    ax.set_ylim(-200, 1000)
    ax.set_xticks(range(-200, 1001, 200))
    ax.set_yticks(range(-200, 1001, 200))
    ax.set_xticks(range(-100, 1000, 200), minor=True)
    ax.set_yticks(range(-100, 1000, 200), minor=True)
    ax.tick_params(which='major', length=6, width=1.5, direction='out',
                   labelbottom=row == 1, labelleft=col == 0, labelsize=15, pad=2)
    ax.tick_params(which='minor', length=3.5, width=1.2, direction='out')
    for lab in ax.get_xticklabels() + ax.get_yticklabels():
        lab.set_fontweight('bold')
    for side in ['left', 'bottom']:
        ax.spines[side].set_linewidth(1.5)
    for side in ['top', 'right']:
        ax.spines[side].set_linewidth(1.1)

    fig.text(title_x[i] / W, 1 - (tops[row] - 25.5) / H, titles[i], fontsize=25.9, ha='center', va='center')
    ax.text(0.028, 0.91, 'r$^2$=' + r2_labels[i], transform=ax.transAxes, fontsize=20, va='center')
    ax.text(0.78, 0.94, '1:1', transform=ax.transAxes, fontsize=20, va='center')

fig.text(45 / W, 1 - 465 / H, 'LE+H [W m$^{\u20102}$]', rotation=90, fontsize=32, ha='center', va='center')
fig.text(732 / W, 1 - 929 / H, 'Rn-G [W m$^{\u20102}$]', fontsize=32.5, ha='center', va='center')

plt.savefig('out.png', dpi=100)
plt.close(fig)
